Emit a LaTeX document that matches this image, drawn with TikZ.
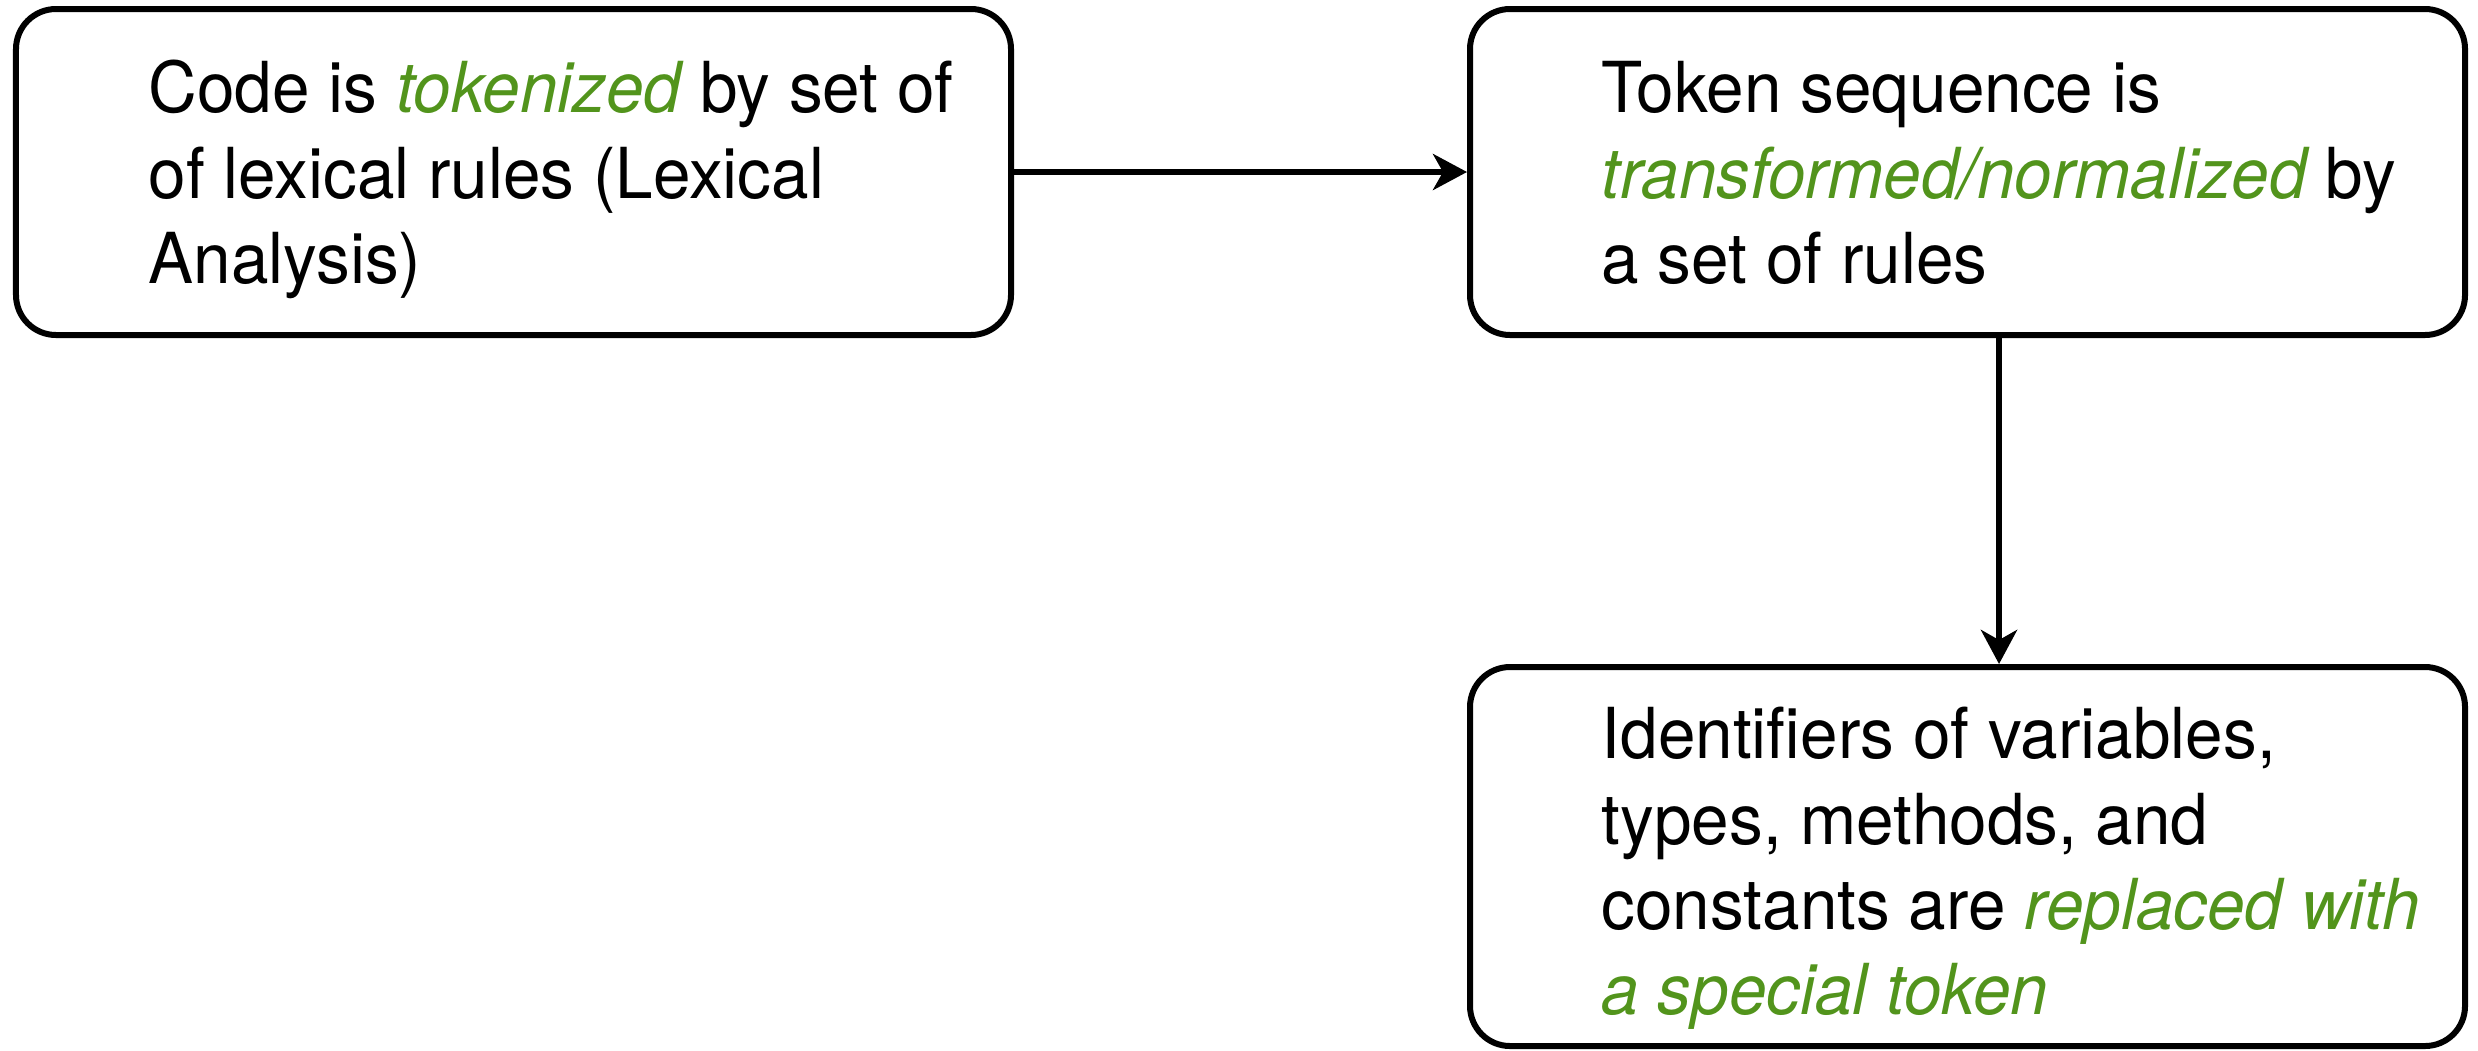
\documentclass[tikz,border=0pt]{standalone}
\usepackage{fontspec}
\setmainfont[FakeStretch=0.96]{TeX Gyre Heros}
\usetikzlibrary{arrows.meta,calc}
\definecolor{hlgreen}{RGB}{82,148,28}
\newcommand{\hl}[1]{{\color{hlgreen}\itshape #1}}
\begin{document}
\begin{tikzpicture}[
  box/.style={draw, line width=0.06cm, rounded corners=0.4cm, rectangle,
              minimum width=9.95cm, inner sep=0pt},
  txt/.style={anchor=north west, inner sep=0pt, align=left,
              font=\fontsize{20pt}{24.3pt}\selectfont},
  conn/.style={line width=0.065cm, -{Stealth[length=0.34cm, width=0.36cm, inset=0.1cm]}}
]
\useasboundingbox (0,0) rectangle (24.78,-10.50);
\node[box, minimum height=3.26cm] (b1) at (5.135,-1.72) {};
\node[box, minimum height=3.26cm] (b2) at (19.675,-1.72) {};
\node[box, minimum height=3.79cm] (b3) at (19.675,-8.565) {};
\node[txt] (t1) at (1.48,-0.52) {\rule{0pt}{0.6cm}Code is \hl{tokenized} by set of\\of lexical rules (Lexical\\Analysis)};
\node[txt] (t2) at (16.01,-0.52) {\rule{0pt}{0.6cm}Token sequence is\\\hl{transformed/normalized} by\\a set of rules};
\node[txt] (t3) at (16.01,-6.98) {\rule{0pt}{0.6cm}Identifiers of variables,\\types, methods, and\\constants are \hl{replaced with}\\\hl{a special token}};
\coordinate (ax) at (19.99,0);
\draw[conn] (b1.east) -- (b2.west);
\draw[conn] (b2.south -| ax) -- (b3.north -| ax);
\end{tikzpicture}
\end{document}
